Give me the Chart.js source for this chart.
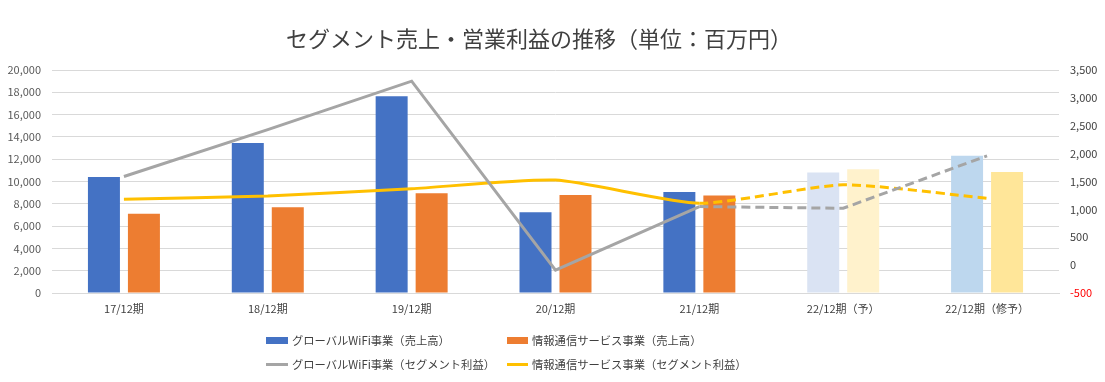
<!DOCTYPE html>
<html lang="ja">
<head>
<meta charset="utf-8">
<title>セグメント売上・営業利益の推移</title>
<script src="https://cdn.jsdelivr.net/npm/chart.js@4.4.1/dist/chart.umd.min.js"></script>
<style>
  body { margin: 0; background: #fff; font-family: "Noto Sans CJK JP", "Noto Sans", sans-serif; }
  #wrap { position: relative; width: 1105px; height: 382px; }
  #title {
    position: absolute; left: 0; width: 1078px; top: 22px; text-align: center;
    font-size: 22px; color: #404040; line-height: 30px;
  }
  .leg { position: absolute; font-size: 11.3px; color: #404040; line-height: 16px; white-space: nowrap; }
  .leg i { position: absolute; display: block; }
</style>
</head>
<body>
<div id="wrap">
  <canvas id="myChart"></canvas>
  <div id="title">セグメント売上・営業利益の推移（単位：百万円）</div>
  <div id="legend"></div>
</div>
<script>
const categories = ["17/12期", "18/12期", "19/12期", "20/12期", "21/12期", "22/12期（予）", "22/12期（修予）"];
const wifiSales = [10400, 13450, 17650, 7250, 9050, 10800, 12300];
const infoSales = [7100, 7700, 8950, 8800, 8750, 11100, 10850];
const wifiProfit = [1590, 2430, 3300, -90, 1050, 1020, 1960];
const infoProfit = [1180, 1240, 1370, 1525, 1110, 1440, 1200];

const salesTicks = { min: 0, max: 20000, step: 2000 };
const profitTicks = { min: -500, max: 3500, step: 500 };

const blueColors = ["#4472C4", "#4472C4", "#4472C4", "#4472C4", "#4472C4", "#DAE3F3", "#BDD7EE"];
const orangeColors = ["#ED7D31", "#ED7D31", "#ED7D31", "#ED7D31", "#ED7D31", "#FFF2CC", "#FFE699"];

const font = { family: "'Noto Sans CJK JP', 'Noto Sans', sans-serif", size: 11 };
const dashAfterActual = (ctx) => (ctx.p0DataIndex >= 4 ? [9, 5] : undefined);

const ctx = document.getElementById("myChart").getContext("2d");
const myChart = new Chart(ctx, {
  type: "bar",
  data: {
    labels: categories,
    datasets: [
      {
        label: "グローバルWiFi事業（売上高）",
        data: wifiSales,
        backgroundColor: blueColors,
        yAxisID: "y",
        order: 2,
        categoryPercentage: 0.556,
        barPercentage: 0.8,
      },
      {
        label: "情報通信サービス事業（売上高）",
        data: infoSales,
        backgroundColor: orangeColors,
        yAxisID: "y",
        order: 2,
        categoryPercentage: 0.556,
        barPercentage: 0.8,
      },
      {
        type: "line",
        label: "グローバルWiFi事業（セグメント利益）",
        data: wifiProfit,
        borderColor: "#A5A5A5",
        borderWidth: 3,
        pointRadius: 0,
        tension: 0,
        yAxisID: "y1",
        order: 0,
        segment: { borderDash: dashAfterActual },
      },
      {
        type: "line",
        label: "情報通信サービス事業（セグメント利益）",
        data: infoProfit,
        borderColor: "#FFC000",
        borderWidth: 3,
        pointRadius: 0,
        tension: 0.2,
        yAxisID: "y1",
        order: 1,
        segment: { borderDash: dashAfterActual },
      },
    ],
  },
  options: {
    responsive: true,
    maintainAspectRatio: false,
    animation: false,
    layout: { padding: { top: 70, bottom: 59, left: 0, right: 0 } },
    plugins: { legend: { display: false }, tooltip: { enabled: false }, title: { display: false } },
    scales: {
      x: {
        grid: { display: false, drawTicks: false },
        border: { display: true, color: "#D9D9D9" },
        ticks: { font: font, color: "#404040", padding: 9, maxRotation: 0, autoSkip: false },
        afterFit: (s) => { s.height = 30; },
      },
      y: {
        position: "left",
        min: salesTicks.min,
        max: salesTicks.max,
        grid: { color: "#D9D9D9", drawTicks: false },
        border: { display: false },
        ticks: {
          stepSize: salesTicks.step,
          font: font,
          color: "#595959",
          padding: 11,
          callback: (v) => v.toLocaleString("en-US"),
        },
        afterFit: (s) => { s.width = 52; },
      },
      y1: {
        position: "right",
        min: profitTicks.min,
        max: profitTicks.max,
        grid: { display: false, drawTicks: false },
        border: { display: false },
        ticks: {
          stepSize: profitTicks.step,
          font: font,
          color: (c) => (c.tick && c.tick.value < 0 ? "#FF0000" : "#404040"),
          padding: 11,
          callback: (v) => v.toLocaleString("en-US"),
        },
        afterFit: (s) => { s.width = 46; },
      },
    },
  },
});

// legend laid out like the original: two rows, two columns
const legendPos = [
  { x: 266, y: 340, w: 22, h: 7 },
  { x: 507, y: 340, w: 21, h: 7 },
  { x: 266, y: 364, w: 22, h: 3 },
  { x: 507, y: 364, w: 21, h: 3 },
];
const legend = document.getElementById("legend");
myChart.data.datasets.forEach((ds, i) => {
  const p = legendPos[i];
  const item = document.createElement("div");
  item.className = "leg";
  item.style.left = p.x + p.w + 4 + "px";
  item.style.top = p.y - 8 + "px";
  item.textContent = ds.label;
  const mark = document.createElement("i");
  mark.style.left = -(p.w + 4) + "px";
  mark.style.top = 8 - p.h / 2 + "px";
  mark.style.width = p.w + "px";
  mark.style.height = p.h + "px";
  mark.style.background = ds.type === "line" ? ds.borderColor : ds.backgroundColor[0];
  item.appendChild(mark);
  legend.appendChild(item);
});
</script>
</body>
</html>
